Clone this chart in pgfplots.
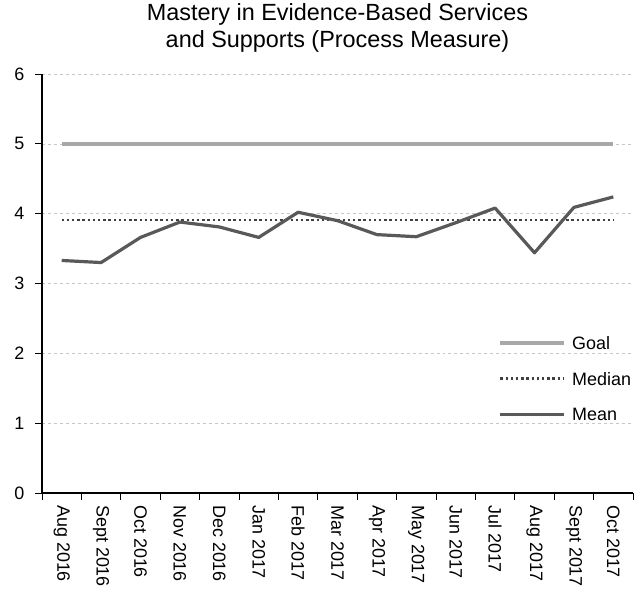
\documentclass[border=0pt]{standalone}
\usepackage{pgfplots}
\pgfplotsset{compat=1.18}
\usepackage{fontspec}
\setmainfont{Liberation Sans}
\definecolor{goalc}{HTML}{A8A8A8}
\definecolor{meanc}{HTML}{595959}
\definecolor{medc}{HTML}{404040}
\pgfplotstableread{
x y
0 3.33
1 3.30
2 3.66
3 3.88
4 3.81
5 3.66
6 4.02
7 3.90
8 3.70
9 3.67
10 3.87
11 4.08
12 3.44
13 4.09
14 4.24
}\meandata
\begin{document}
\begin{tikzpicture}
\useasboundingbox (-42bp,-104bp) rectangle (599bp,493bp);
\begin{axis}[
  at={(0,0)}, anchor=south west,
  scale only axis, width=591bp, height=419bp,
  xmin=-0.5, xmax=14.5, ymin=0, ymax=6,
  axis x line*=bottom, axis y line*=left,
  axis line style={line width=1.1pt, black},
  ytick={0,1,...,6},
  ymajorgrids,
  grid style={dashed, gray!45, line width=0.6pt},
  xtick={-0.5,0.5,...,14.5},
  xticklabels={},
  major tick length=6.5bp,
  tick style={black, line width=0.9pt},
  tick align=outside,
  extra x ticks={0,1,...,14},
  extra x tick labels={Aug 2016,Sept 2016,Oct 2016,Nov 2016,Dec 2016,Jan 2017,Feb 2017,Mar 2017,Apr 2017,May 2017,Jun 2017,Jul 2017,Aug 2017,Sept 2017,Oct 2017},
  extra x tick style={major tick length=0pt, grid=none,
     xticklabel style={yshift=-12bp, rotate=-90, anchor=west, inner sep=0pt}},
  /pgf/number format/assume math mode=true,
  tick label style={font=\fontsize{18}{21}\selectfont},
  yticklabel style={inner sep=0pt, xshift=-11bp},
  title={Mastery in Evidence-Based Services\\and Supports (Process Measure)},
  title style={align=center, font=\fontsize{23.5}{27.5}\selectfont, at={(0.5,1)}, anchor=south, inner sep=0pt, yshift=15bp},
  legend style={at={(1,0.378)}, anchor=north east, draw=none, fill=none,
     inner sep=0pt, outer sep=0pt,
     font=\fontsize{18}{21}\selectfont, row sep=18.5bp, column sep=4bp,
     nodes={inner sep=2bp, text height=13bp, text depth=0bp}},
  legend cell align=left,
  legend image code/.code={\draw[#1] (0bp,0bp) -- (64bp,0bp);},
]
\addplot[goalc, line width=3.5bp] coordinates {(0,5) (14,5)};
\addlegendentry{Goal}
\addplot[medc, line width=2.4bp, dash pattern=on 2.4bp off 2.8bp] coordinates {(0,3.91) (14,3.91)};
\addlegendentry{Median}
\addplot[meanc, line width=3.2bp, line join=round] table[x=x,y=y] {\meandata};
\addlegendentry{Mean}
\end{axis}
\end{tikzpicture}
\end{document}
